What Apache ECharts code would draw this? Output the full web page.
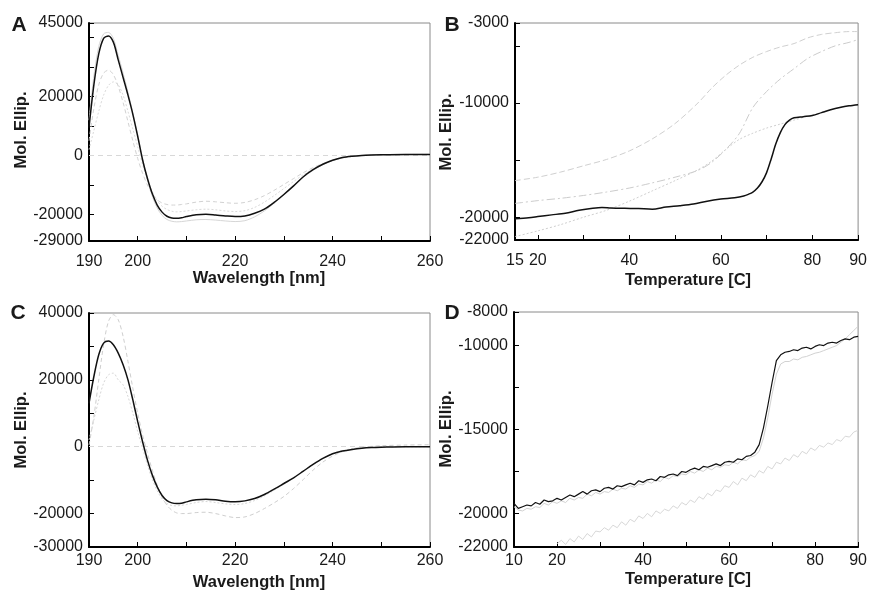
<!doctype html>
<html>
<head>
<meta charset="UTF-8">
<title>CD spectra and melting curves</title>
<script src="https://cdn.jsdelivr.net/npm/echarts@6/dist/echarts.min.js"></script>
<style>
  html, body { margin: 0; padding: 0; background: #fff; }
  #main { width: 870px; height: 597px; }
</style>
</head>
<body>
<div id="main"></div>
<script>
// ---- panel A / C : CD spectra (wavelength grid shared by all curves) ----
var wave = [190,191,192,193,194,195,196,197,198,199,200,201,202,203,204,205,206,207,208,209,210,
            212,214,216,218,220,222,224,226,228,230,232,234,236,238,240,242,244,246,248,250,255,260];

var aBlack = [9500,24000,34500,39800,40600,38500,32500,26500,20500,14000,6500,-1500,-7800,-13000,-16800,-19200,-20600,-21200,-21300,-21100,-20700,
              -20100,-19950,-20200,-20500,-20700,-20500,-19600,-18200,-15900,-13200,-10300,-7200,-4800,-2950,-1600,-650,-200,50,200,300,400,400];
var aGray1 = [12000,27000,37000,41300,41800,39800,34000,28000,21500,14500,7000,-1000,-8000,-13800,-17800,-20300,-21700,-22300,-22500,-22400,-22200,
              -21800,-21700,-21900,-22200,-22400,-22100,-20800,-18800,-16200,-13300,-10300,-7300,-5000,-3100,-1700,-750,-250,50,200,300,400,450];
var aGray2 = [5000,16000,24000,28000,29000,27500,23500,18000,11500,5000,-1000,-6000,-10000,-13000,-15000,-16100,-16600,-16800,-16800,-16600,-16400,
              -15800,-15500,-15700,-16000,-16200,-15900,-15000,-13600,-11800,-9800,-7800,-5800,-4100,-2700,-1600,-800,-300,0,150,250,350,400];
var aGray3 = [2000,8500,15000,20500,23800,25000,24000,20500,15000,9000,3000,-3000,-8200,-12300,-15300,-17200,-18300,-18900,-19100,-19000,-18800,
              -18400,-18200,-18400,-18800,-19000,-18700,-17600,-15800,-13600,-11200,-8800,-6500,-4500,-2900,-1700,-900,-350,0,150,250,350,400];

var cBlack = [13000,21000,27500,31000,31600,30500,28000,24500,20000,14000,7500,1500,-4000,-8500,-12000,-14600,-16100,-16800,-17000,-16900,-16500,
              -15900,-15700,-15900,-16300,-16450,-16200,-15500,-14300,-12700,-11000,-9300,-7300,-5300,-3500,-2100,-1300,-800,-450,-250,-150,0,0];
var cDash  = [500,9000,20000,30500,37500,39500,38000,33000,25500,17500,10000,3500,-2000,-7000,-11500,-15000,-17500,-19000,-19800,-20000,-20000,
              -19700,-19600,-20000,-20700,-21200,-21000,-20000,-18500,-16800,-14900,-12500,-9800,-7000,-4600,-2800,-1500,-700,-200,100,300,500,600];
var cGray  = [2000,8000,14000,19000,21500,22000,20000,18500,15000,10000,4500,-500,-5500,-9800,-13200,-15600,-17000,-17600,-17700,-17500,-17300,
              -16700,-16400,-16700,-17100,-17300,-17000,-16100,-14700,-13000,-11200,-9300,-7300,-5300,-3500,-2100,-1200,-600,-300,-100,0,0,0];

// ---- panel B : thermal melts ----
var bTemp  = [15,18,20,23,26,29,32,34,36,39,42,45,48,51,54,57,60,63,65,66,67,68,69,70,71,72,73,74,75,76,78,80,82,84,86,88,90];
var bBlack = [-20150,-20050,-19950,-19800,-19650,-19400,-19220,-19150,-19200,-19230,-19250,-19300,-19120,-19000,-18850,-18600,-18420,-18300,-18150,
              -18000,-17800,-17450,-16900,-16100,-14900,-13600,-12600,-11900,-11500,-11300,-11200,-11100,-10850,-10600,-10400,-10250,-10150];
var bTemp2 = [15,20,25,30,35,40,45,50,55,58,61,64,67,70,73,76,79,82,85,88,90];
var bDash  = [-16800,-16500,-16050,-15500,-14950,-14200,-13150,-11800,-10000,-8700,-7600,-6700,-6000,-5500,-5100,-4800,-4300,-4000,-3850,-3750,-3750];
var bDashDot = [-18800,-18550,-18350,-18100,-17800,-17450,-17000,-16500,-15900,-15200,-14100,-12700,-10400,-9000,-7900,-7000,-6100,-5500,-5000,-4700,-4450];
var bDot   = [-21700,-21200,-20650,-20000,-19400,-18600,-17700,-16800,-15850,-15100,-14100,-13200,-12650,-12200,-11850,-11500,-11150,-10850,-10500,-10250,-10150];

// ---- panel D : raw melt traces ----
var dTemp = [10,11,12,13,14,15,16,17,18,19,20,21,22,23,24,25,26,27,28,29,30,31,32,33,34,35,36,37,38,39,40,
             41,42,43,44,45,46,47,48,49,50,51,52,53,54,55,56,57,58,59,60,61,62,63,64,65,66,67,68,69,70,
             71,72,73,74,75,76,77,78,79,80,81,82,83,84,85,86,87,88,89,90];
var dBlack = [-19400,-19700,-19600,-19500,-19550,-19350,-19450,-19200,-19300,-19250,-19100,-19200,-19050,-18900,-19000,-18850,-18700,-18850,-18650,-18600,-18700,
              -18500,-18450,-18550,-18350,-18400,-18300,-18200,-18300,-18050,-18150,-18000,-17950,-18050,-17800,-17850,-17700,-17650,-17750,-17500,-17550,
              -17400,-17300,-17400,-17200,-17250,-17150,-17050,-17150,-16950,-16900,-16950,-16750,-16800,-16600,-16550,-16350,-15900,-14900,-13600,-12200,
              -10900,-10550,-10400,-10350,-10250,-10300,-10150,-10100,-10200,-10050,-9950,-10000,-9850,-9800,-9850,-9700,-9600,-9650,-9500,-9450];
var dGrayHi = [-19600,-19800,-19850,-19700,-19750,-19600,-19650,-19400,-19500,-19300,-19400,-19250,-19350,-19100,-19200,-19050,-19100,-18850,-18950,-18750,-18850,
               -18700,-18750,-18550,-18650,-18500,-18550,-18350,-18450,-18250,-18300,-18100,-18200,-18000,-18100,-17850,-17950,-17750,-17800,-17650,-17700,
               -17500,-17600,-17400,-17500,-17300,-17400,-17200,-17250,-17100,-17150,-16950,-17050,-16800,-16850,-16650,-16550,-16300,-15500,-14300,-12900,
               -11700,-11100,-10950,-10950,-10800,-10850,-10700,-10650,-10550,-10450,-10400,-10300,-10200,-10100,-10000,-9800,-9600,-9350,-9100,-8850];
var dGrayLo = [null,null,null,null,null,null,null,null,null,null,
               -21800,-21600,-21850,-21500,-21700,-21350,-21550,-21200,-21400,-21050,-21100,
               -20850,-21000,-20700,-20850,-20500,-20700,-20350,-20500,-20150,-20300,-20000,-20200,-19850,-20000,-19750,-19850,-19550,-19700,-19350,-19500,
               -19200,-19350,-19000,-19150,-18800,-18950,-18600,-18700,-18350,-18450,-18100,-18300,-17900,-18050,-17700,-17850,-17450,-17600,-17200,-17350,
               -16950,-17050,-16700,-16850,-16500,-16650,-16300,-16450,-16100,-16250,-15950,-16050,-15800,-15900,-15600,-15700,-15400,-15450,-15150,-15050];

// ---- tick marks and labels ----
var waveTicks  = [190,200,210,220,230,240,250,260];
var waveLabels = [190,200,220,240,260];
var aYTicks  = [-29000,-20000,-10000,0,10000,20000,30000,40000,45000];
var aYLabels = [45000,20000,0,-20000,-29000];
var cYTicks  = [-30000,-20000,-10000,0,10000,20000,30000,40000];
var cYLabels = [40000,20000,0,-20000,-30000];
var bXTicks  = [15,20,30,40,50,60,70,80,90];
var bXLabels = [15,20,40,60,80,90];
var bYTicks  = [-22000,-20000,-15000,-10000,-5000,-3000];
var bYLabels = [-3000,-10000,-20000,-22000];
var dXTicks  = [10,20,30,40,50,60,70,80,90];
var dXLabels = [10,20,40,60,80,90];
var dYTicks  = [-22000,-20000,-17500,-15000,-12500,-10000,-8000];
var dYLabels = [-8000,-10000,-15000,-20000,-22000];

var FONT = 'Liberation Sans, Arial, Helvetica, sans-serif';

function pairs(xs, ys) {
  return xs.map(function (x, i) { return [x, ys[i]]; });
}

function plain(v) { return String(v); }

function xAx(gi, min, max, ticks, labels, gap) {
  return {
    type: 'value', gridIndex: gi, min: min, max: max,
    axisLine: { onZero: false, lineStyle: { color: '#000', width: 2 } },
    axisTick: { inside: true, length: 5, customValues: ticks, lineStyle: { color: '#000', width: 1 } },
    axisLabel: { customValues: labels, formatter: plain, margin: gap, fontSize: 16, color: '#1a1a1a', fontFamily: FONT },
    splitLine: { show: false }
  };
}

function yAx(gi, min, max, ticks, labels) {
  return {
    type: 'value', gridIndex: gi, min: min, max: max,
    axisLine: { onZero: false, lineStyle: { color: '#000', width: 2 } },
    axisTick: { inside: true, length: 5, customValues: ticks, lineStyle: { color: '#000', width: 1 } },
    axisLabel: { customValues: labels, formatter: plain, margin: 6, fontSize: 16, color: '#1a1a1a', fontFamily: FONT },
    splitLine: { show: false }
  };
}

function line(gi, data, color, width, dash, smooth, z) {
  return {
    type: 'line', xAxisIndex: gi, yAxisIndex: gi, data: data,
    showSymbol: false, smooth: smooth, silent: true, z: z || 2,
    lineStyle: { color: color, width: width, type: dash }
  };
}

var zeroLine = {
  silent: true, symbol: 'none', label: { show: false },
  lineStyle: { color: '#d8d8d8', width: 1, type: [5, 4] },
  data: [{ yAxis: 0 }]
};

var gridStyle = { show: true, borderColor: '#8a8a8a', borderWidth: 1, backgroundColor: '#fff' };

var serA = line(0, pairs(wave, aBlack), '#111', 1.5, 'solid', 0.3, 5);
serA.markLine = zeroLine;
var serC = line(2, pairs(wave, cBlack), '#111', 1.5, 'solid', 0.3, 5);
serC.markLine = zeroLine;

function txt(x, y, s, size, rot) {
  return {
    type: 'text', x: x, y: y, rotation: rot || 0, silent: true,
    style: { text: s, font: 'bold ' + size + 'px ' + FONT, fill: '#1a1a1a',
             textAlign: 'center', textVerticalAlign: 'middle', align: 'center', verticalAlign: 'middle' }
  };
}

var myChart = echarts.init(document.getElementById('main'), null, { renderer: 'canvas' });

var option = {
  animation: false,
  backgroundColor: '#fff',
  grid: [
    Object.assign({ left: 89, top: 23, width: 341, height: 218 }, gridStyle),
    Object.assign({ left: 515, top: 23, width: 347, height: 217 }, gridStyle),
    Object.assign({ left: 89, top: 313, width: 341, height: 234 }, gridStyle),
    Object.assign({ left: 514, top: 312, width: 348, height: 235 }, gridStyle)
  ],
  xAxis: [
    xAx(0, 190, 260, waveTicks, waveLabels, 13),
    xAx(1, 15, 90, bXTicks, bXLabels, 13),
    xAx(2, 190, 260, waveTicks, waveLabels, 6),
    xAx(3, 10, 90, dXTicks, dXLabels, 6)
  ],
  yAxis: [
    yAx(0, -29000, 45000, aYTicks, aYLabels),
    yAx(1, -22000, -3000, bYTicks, bYLabels),
    yAx(2, -30000, 40000, cYTicks, cYLabels),
    yAx(3, -22000, -8000, dYTicks, dYLabels)
  ],
  series: [
    // A
    line(0, pairs(wave, aGray1), '#d6d6d6', 1, 'solid', 0.3),
    line(0, pairs(wave, aGray2), '#d2d2d2', 1, [4, 3], 0.3),
    line(0, pairs(wave, aGray3), '#dadada', 1, [2, 2], 0.3),
    serA,
    // B
    line(1, pairs(bTemp2, bDash), '#d0d0d0', 1, [6, 3], 0.3),
    line(1, pairs(bTemp2, bDashDot), '#cccccc', 1, [8, 3, 2, 3], 0.3),
    line(1, pairs(bTemp2, bDot), '#d0d0d0', 1, [2, 2], 0.3),
    line(1, pairs(bTemp, bBlack), '#111', 1.5, 'solid', 0.3, 5),
    // C
    line(2, pairs(wave, cDash), '#cfcfcf', 1, [4, 3], 0.3),
    line(2, pairs(wave, cGray), '#d6d6d6', 1, [2, 2], 0.3),
    serC,
    // D
    line(3, pairs(dTemp, dGrayLo), '#d8d8d8', 1, 'solid', false),
    line(3, pairs(dTemp, dGrayHi), '#d2d2d2', 1, 'solid', false),
    line(3, pairs(dTemp, dBlack), '#111', 1.2, 'solid', false, 5)
  ],
  graphic: [
    txt(19, 25, 'A', 21), txt(452, 25, 'B', 21), txt(18, 313, 'C', 21), txt(452, 313, 'D', 21),
    txt(259, 278, 'Wavelength [nm]', 16.5), txt(688, 280, 'Temperature [C]', 16.5),
    txt(259, 582, 'Wavelength [nm]', 16.5), txt(688, 579, 'Temperature [C]', 16.5),
    txt(21, 130, 'Mol. Ellip.', 16.5, Math.PI / 2), txt(446, 132, 'Mol. Ellip.', 16.5, Math.PI / 2),
    txt(21, 430, 'Mol. Ellip.', 16.5, Math.PI / 2), txt(446, 429, 'Mol. Ellip.', 16.5, Math.PI / 2)
  ]
};

myChart.setOption(option);
</script>
</body>
</html>
